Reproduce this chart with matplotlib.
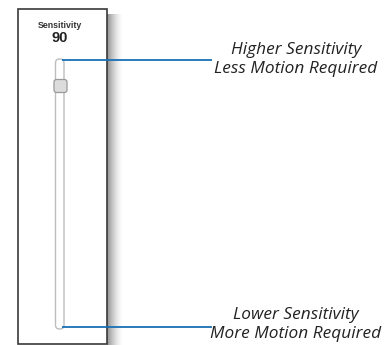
import numpy as np
import matplotlib.pyplot as plt
from matplotlib.patches import Rectangle, FancyBboxPatch

# slider state and callout labels
title = "Sensitivity"
value = 90
vmin, vmax = 0, 100
callouts = ["Higher Sensitivity\nLess Motion Required",
            "Lower Sensitivity\nMore Motion Required"]

W, H = 386, 345
fig = plt.figure(figsize=(W / 100, H / 100), dpi=100)
ax = fig.add_axes([0, 0, 1, 1])
ax.set_xlim(0, W)
ax.set_ylim(H, 0)
ax.axis("off")

# soft shadow on the right of the panel
for k in range(16):
    ax.add_patch(Rectangle((107 + k, 14), 1, H, color="black",
                           alpha=0.42 * (1 - k / 16) ** 1.6, lw=0))
ax.add_patch(Rectangle((18, 9), 89, 335, fc="white", ec="#3a3a3a", lw=1.2))

ax.text(60, 26, title, ha="center", va="center", fontsize=6.3,
        family="Liberation Sans", weight="bold", color="#333333")
ax.text(60, 38, str(value), ha="center", va="center", fontsize=10.5,
        family="Liberation Sans", weight="bold", color="#222222")

# track
top, bot = 59, 329
ax.add_patch(FancyBboxPatch((55.5, top), 8.5, bot - top, boxstyle="round,pad=0,rounding_size=4",
                            fc="white", ec="#bdbdbd", lw=1.0))
# thumb position from value
ty = top + (vmax - value) / (vmax - vmin) * (bot - top)
ax.add_patch(FancyBboxPatch((54, ty - 6.5), 13, 13, boxstyle="round,pad=0,rounding_size=2.5",
                            fc="#dcdcdc", ec="#9a9a9a", lw=0.9))

# callout lines and texts
for y in [top + 1, bot - 2]:
    ax.plot([62, 212], [y, y], color="#1a6fb5", lw=1.3, solid_capstyle="butt")
yt = [59.5, 324.5]
for y, txt in zip(yt, callouts):
    ax.text(296, y, txt, ha="center", va="center", fontsize=12.4, style="italic",
            family="Open Sans", weight="normal", fontstretch="normal",
            color="#222222", linespacing=1.32)

fig.savefig("out.png", dpi=100)
